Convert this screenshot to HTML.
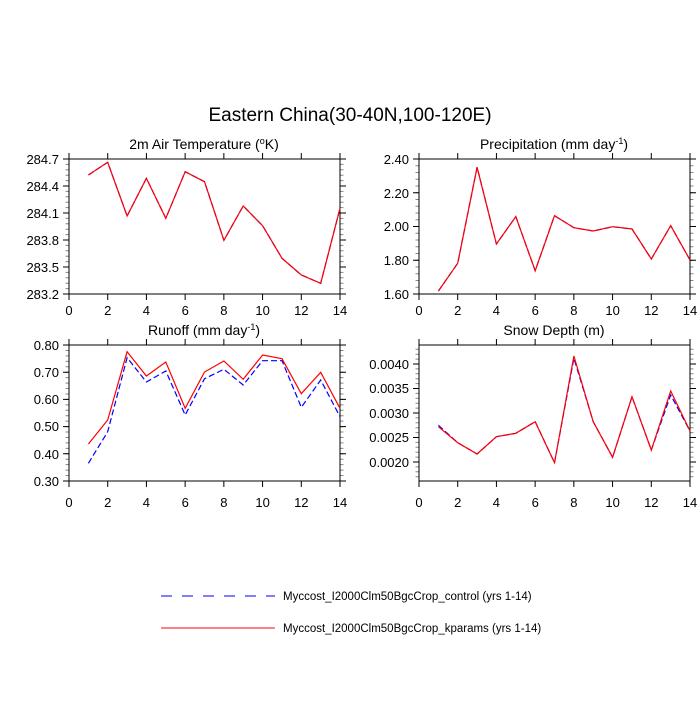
<!DOCTYPE html>
<html><head><meta charset="utf-8"><style>
html,body{margin:0;padding:0;background:#fff;}
svg text{font-family:"Liberation Sans",sans-serif;fill:#000;}
</style></head><body>
<svg id="s" width="700" height="700" viewBox="0 0 700 700" xmlns="http://www.w3.org/2000/svg">
<rect width="700" height="700" fill="#fff"/>
<text x="350" y="121" font-size="19" text-anchor="middle">Eastern China(30-40N,100-120E)</text>
<text x="204" y="149" font-size="14" text-anchor="middle">2m Air Temperature (<tspan font-size="9" dy="-5">o</tspan><tspan dy="5">K)</tspan></text>
<text x="554" y="149" font-size="14" text-anchor="middle">Precipitation (mm day<tspan font-size="9" dy="-5">-1</tspan><tspan dy="5">)</tspan></text>
<text x="204" y="335" font-size="14" text-anchor="middle">Runoff (mm day<tspan font-size="9" dy="-5">-1</tspan><tspan dy="5">)</tspan></text>
<text x="554" y="335" font-size="14" text-anchor="middle">Snow Depth (m)</text>
<g id="ticks" stroke="#000" stroke-width="1" fill="none"></g>
<g font-size="13" text-anchor="end">
<text x="59" y="164">284.7</text><text x="59" y="191">284.4</text><text x="59" y="218">284.1</text><text x="59" y="245">283.8</text><text x="59" y="272">283.5</text><text x="59" y="299">283.2</text>
<text x="409" y="164">2.40</text><text x="409" y="198">2.20</text><text x="409" y="231">2.00</text><text x="409" y="265">1.80</text><text x="409" y="299">1.60</text>
<text x="59" y="350">0.80</text><text x="59" y="377">0.70</text><text x="59" y="404">0.60</text><text x="59" y="431">0.50</text><text x="59" y="459">0.40</text><text x="59" y="486">0.30</text>
<text x="409" y="369">0.0040</text><text x="409" y="393">0.0035</text><text x="409" y="418">0.0030</text><text x="409" y="442">0.0025</text><text x="409" y="467">0.0020</text>
</g>
<g font-size="13" text-anchor="middle">
<text x="69" y="315">0</text><text x="107.7" y="315">2</text><text x="146.4" y="315">4</text><text x="185.2" y="315">6</text><text x="223.9" y="315">8</text><text x="262.6" y="315">10</text><text x="301.3" y="315">12</text><text x="340" y="315">14</text>
<text x="419" y="315">0</text><text x="457.7" y="315">2</text><text x="496.4" y="315">4</text><text x="535.2" y="315">6</text><text x="573.9" y="315">8</text><text x="612.6" y="315">10</text><text x="651.3" y="315">12</text><text x="690" y="315">14</text>
<text x="69" y="507">0</text><text x="107.7" y="507">2</text><text x="146.4" y="507">4</text><text x="185.2" y="507">6</text><text x="223.9" y="507">8</text><text x="262.6" y="507">10</text><text x="301.3" y="507">12</text><text x="340" y="507">14</text>
<text x="419" y="507">0</text><text x="457.7" y="507">2</text><text x="496.4" y="507">4</text><text x="535.2" y="507">6</text><text x="573.9" y="507">8</text><text x="612.6" y="507">10</text><text x="651.3" y="507">12</text><text x="690" y="507">14</text>
</g>
<g fill="none" stroke-width="1.2">
<polyline stroke="#00f" stroke-dasharray="6,3" points="88.4,175 107.7,162.3 127.1,216 146.4,178.3 165.8,218.3 185.2,171.7 204.5,181.7 223.9,240.3 243.2,206 262.6,225.7 282,258.3 301.3,275 320.7,283.3 340,208.3"/>
<polyline stroke="#f00" points="88.4,175 107.7,162.3 127.1,216 146.4,178.3 165.8,218.3 185.2,171.7 204.5,181.7 223.9,240.3 243.2,206 262.6,225.7 282,258.3 301.3,275 320.7,283.3 340,208.3"/>
<polyline stroke="#00f" stroke-dasharray="6,3" points="438.4,291 457.7,263.3 477.1,167.3 496.4,244 515.8,216.7 535.2,270.7 554.5,215.7 573.9,227.7 593.2,231 612.6,226.7 632,229 651.3,259 670.7,225.7 690,260"/>
<polyline stroke="#f00" points="438.4,291 457.7,263.3 477.1,167.3 496.4,244 515.8,216.7 535.2,270.7 554.5,215.7 573.9,227.7 593.2,231 612.6,226.7 632,229 651.3,259 670.7,225.7 690,260"/>
<polyline stroke="#00f" stroke-dasharray="6,3" points="88.4,463.3 107.7,431.7 127.1,357.7 146.4,382 165.8,371 185.2,415 204.5,378.7 223.9,369.3 243.2,385 262.6,360.7 282,360.7 301.3,407.3 320.7,380 340,416.7"/>
<polyline stroke="#f00" points="88.4,444 107.7,420 127.1,351.7 146.4,376 165.8,362 185.2,408.3 204.5,372 223.9,361 243.2,379.3 262.6,355 282,358.7 301.3,393.7 320.7,372.3 340,408.3"/>
<polyline stroke="#00f" stroke-dasharray="6,3" points="438.4,425.3 457.7,442.7 477.1,454 496.4,436.7 515.8,433.3 535.2,421.7 554.5,462.7 573.9,358.3 593.2,421.7 612.6,457.3 632,396.7 651.3,450 670.7,395 690,431"/>
<polyline stroke="#f00" points="438.4,426.7 457.7,442.7 477.1,454 496.4,436.7 515.8,433.3 535.2,421.7 554.5,462.7 573.9,356 593.2,421.7 612.6,457.3 632,396.7 651.3,450 670.7,391 690,431"/>
</g>
<line x1="161" y1="596" x2="275" y2="596" stroke="#00f" stroke-dasharray="11,10"/>
<line x1="161" y1="628" x2="275" y2="628" stroke="#f00"/>
<text x="283" y="600" font-size="11.5">Myccost_I2000Clm50BgcCrop_control (yrs 1-14)</text>
<text x="283" y="632" font-size="11.5">Myccost_I2000Clm50BgcCrop_kparams (yrs 1-14)</text>
</svg>
<script>
var g=document.getElementById('ticks'),d='',m='';
var P=[[69,340,159,294,5.4,27],[419,690,159,294,6.75,33.75],[69,340,345,481,5.44,27.2],[419,690,345,481,4.9,24.5]];
var firstMajor=[159,159,345,364];
P.forEach(function(p,k){
 var x0=p[0],x1=p[1],y0=p[2],y1=p[3];
 d+='M'+x0+' '+y0+'H'+x1+'V'+y1+'H'+x0+'Z';
 for(var i=0;i<=7;i++){var x=x0+i*(x1-x0)/7;d+='M'+x+' '+y1+'v6M'+x+' '+y0+'v-6';}
 var fm=firstMajor[k];
 for(var y=fm;y<=y1+0.1;y+=p[5]){d+='M'+x0+' '+y+'h-6M'+x1+' '+y+'h6';}
 var st=fm; while(st-p[4]>=y0-0.1) st-=p[4];
 for(var y=st;y<=y1+0.1;y+=p[4]){m+='M'+x0+' '+y+'h-3.5M'+x1+' '+y+'h3.5';}
});
g.innerHTML='<path d="'+m+'" stroke="#888"/><path d="'+d+'"/>';
</script>
</body></html>
